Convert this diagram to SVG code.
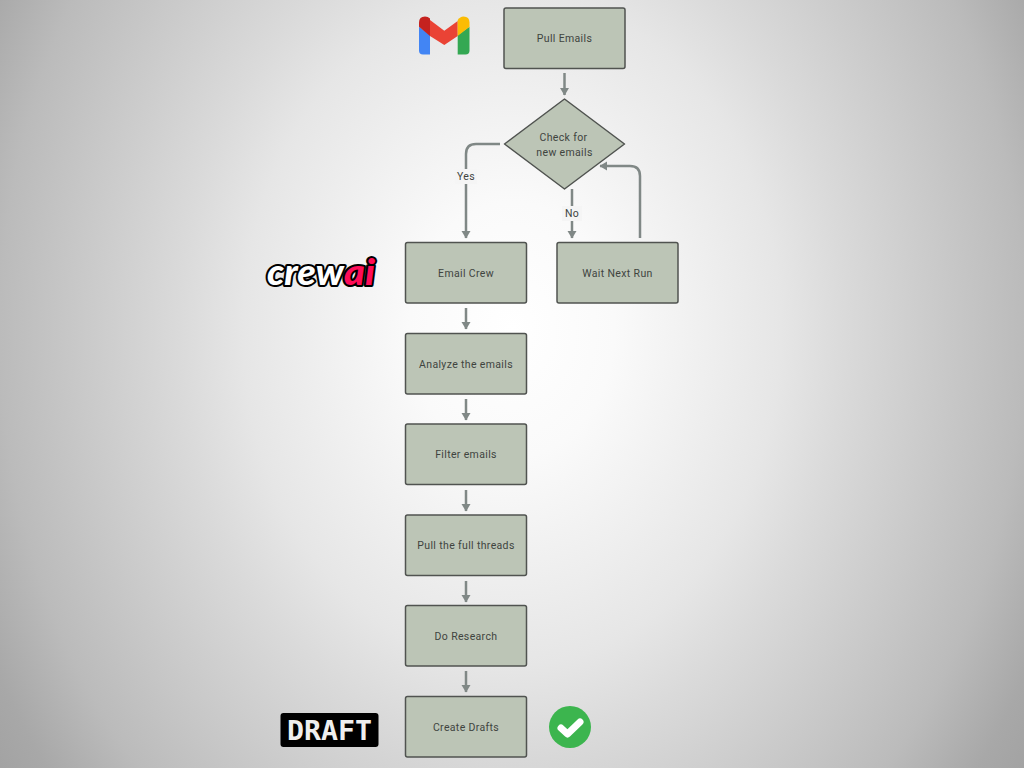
<svg xmlns="http://www.w3.org/2000/svg" width="1024" height="768" viewBox="0 0 1024 768">
<style>
.n{fill:#bcc5b6;stroke:#505350;stroke-width:1.5}
.t{font-family:Roboto,"Noto Sans","Liberation Sans",sans-serif;font-size:10.500px;letter-spacing:.35px;fill:#40443f;text-anchor:middle}
.c{fill:none;stroke:#808886;stroke-width:2.500}
</style>
<defs>
<radialGradient id="bg" gradientUnits="userSpaceOnUse" cx="0" cy="0" r="640" gradientTransform="translate(512 330) scale(1 1.25)">
<stop offset="0" stop-color="#ffffff"/><stop offset="0.16" stop-color="#fafafa"/><stop offset="0.42" stop-color="#e6e6e6"/><stop offset="0.52" stop-color="#dadada"/><stop offset="0.8" stop-color="#bbbbbb"/><stop offset="0.91" stop-color="#a8a8a8"/><stop offset="1" stop-color="#a0a0a0"/>
</radialGradient>
<marker id="a" markerUnits="userSpaceOnUse" markerWidth="9" markerHeight="10" refX="7" refY="4.500" orient="auto"><path d="M0 0L7.500 4.500L0 9Z" fill="#808886"/></marker>
</defs>
<rect width="1024" height="768" fill="url(#bg)"/>
<g id="connectors">
<path class="c" marker-end="url(#a)" d="M564.500 73V95"/>
<path class="c" marker-end="url(#a)" d="M500 144H476Q466 144 466 154V238"/>
<path class="c" marker-end="url(#a)" d="M572 189V238"/>
<path class="c" marker-end="url(#a)" d="M640 238V176Q640 166 630 166H600"/>
<path class="c" marker-end="url(#a)" d="M466 308V329"/>
<path class="c" marker-end="url(#a)" d="M466 399V420"/>
<path class="c" marker-end="url(#a)" d="M466 490V511"/>
<path class="c" marker-end="url(#a)" d="M466 581V602"/>
<path class="c" marker-end="url(#a)" d="M466 671V692"/>
<rect x="455" y="169" width="22" height="15" fill="#f5f5f5"/>
<text class="t" x="466" y="180">Yes</text>
<rect x="562" y="206" width="20" height="15" fill="#f5f5f5"/>
<text class="t" x="572" y="217">No</text>
</g>
<g id="pull-emails"><rect class="n" x="504" y="8" width="121" height="60.500" rx="2"/><text class="t" x="564.500" y="42">Pull Emails</text></g>
<g id="check"><path class="n" stroke-linejoin="round" d="M564.500 99L624.500 144L564.500 189L504.500 144Z"/><text class="t" x="563.500" y="140.500">Check for</text><text class="t" x="564.500" y="156">new emails</text></g>
<g id="email-crew"><rect class="n" x="405.500" y="242.500" width="121" height="60.500" rx="2"/><text class="t" x="466" y="276.500">Email Crew</text></g>
<g id="wait"><rect class="n" x="557" y="242.500" width="121" height="60.500" rx="2"/><text class="t" x="617.500" y="276.500">Wait Next Run</text></g>
<g id="analyze"><rect class="n" x="405.500" y="333.500" width="121" height="60.500" rx="2"/><text class="t" x="466" y="367.500">Analyze the emails</text></g>
<g id="filter"><rect class="n" x="405.500" y="424" width="121" height="60.500" rx="2"/><text class="t" x="466" y="458">Filter emails</text></g>
<g id="threads"><rect class="n" x="405.500" y="515" width="121" height="60.500" rx="2"/><text class="t" x="466" y="549">Pull the full threads</text></g>
<g id="research"><rect class="n" x="405.500" y="605.500" width="121" height="60.500" rx="2"/><text class="t" x="466" y="640">Do Research</text></g>
<g id="drafts"><rect class="n" x="405.500" y="696.500" width="121" height="60.500" rx="2"/><text class="t" x="466" y="731">Create Drafts</text></g>
<g id="gmail">
<path fill="#4285f4" d="M419 26.700V50.500Q419 54.500 423 54.500H430V35Z"/>
<path fill="#34a853" d="M469.500 26.700V50.500Q469.500 54.500 465.500 54.500H457.700V35Z"/>
<path fill="#ea4335" d="M430 20L444.300 30.700L457.700 21V36L444.300 45L430 36Z"/>
<path fill="#c5221f" d="M419 26.700V22.500Q419 16.500 425 16.500Q428 16.500 430 18.500V36Z"/>
<path fill="#fbbc04" d="M457.700 36V20Q460 16.500 463.500 16.500Q469.500 16.500 469.500 22.500V26.700Z"/>
</g>
<g id="crewai-logo" font-family="Lato,'Open Sans',sans-serif" font-style="italic" font-weight="900" font-size="36" stroke="#000" stroke-width="4" stroke-linejoin="round" paint-order="stroke">
<text x="267" y="285" fill="#ffffff" textLength="77" lengthAdjust="spacingAndGlyphs">crew</text>
<text x="344" y="285" fill="#ff0d57" textLength="31" lengthAdjust="spacingAndGlyphs">ai</text>
</g>
<g id="draft-badge"><rect x="280.500" y="713" width="98" height="34" rx="3" fill="#000"/><text x="287" y="740" font-family="'DejaVu Sans Mono',monospace" font-weight="700" font-size="27" fill="#efefef" textLength="85" lengthAdjust="spacingAndGlyphs">DRAFT</text></g>
<g id="check-badge"><circle cx="570" cy="727" r="21" fill="#3cb54e"/><path d="M561 728L567.500 734L580 722" fill="none" stroke="#fff" stroke-width="7" stroke-linecap="round" stroke-linejoin="round"/></g>
</svg>
